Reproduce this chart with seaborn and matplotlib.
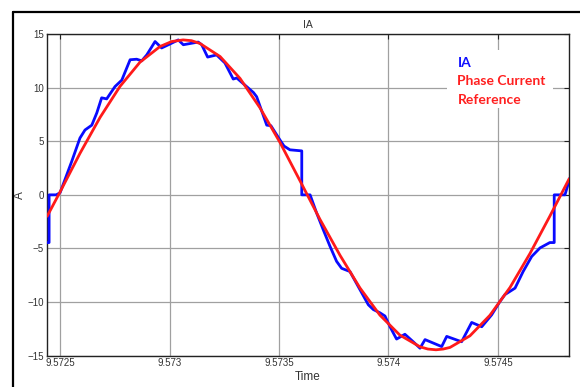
import matplotlib
matplotlib.use("Agg")
import matplotlib.pyplot as plt
from matplotlib.lines import Line2D
from matplotlib.patches import Rectangle
import seaborn as sns
import pandas as pd

# ---- data ----
ia_time = [9.572439, 9.572450, 9.572450, 9.572482, 9.572500, 9.572553, 9.572591,
           9.572614, 9.572645, 9.572668, 9.572690, 9.572713, 9.572751, 9.572782,
           9.572820, 9.572850, 9.572873, 9.572896, 9.572934, 9.572964, 9.572995,
           9.573040, 9.573063, 9.573131, 9.573147, 9.573174, 9.573215, 9.573253,
           9.573291, 9.573307, 9.573383, 9.573398, 9.573444, 9.573463, 9.573505,
           9.573523, 9.573550, 9.573604, 9.573604, 9.573642, 9.573672, 9.573702,
           9.573733, 9.573763, 9.573786, 9.573824, 9.573870, 9.573908, 9.573931,
           9.573961, 9.573984, 9.574007, 9.574037, 9.574075, 9.574113, 9.574144,
           9.574167, 9.574243, 9.574266, 9.574334, 9.574380, 9.574426, 9.574471,
           9.574509, 9.574532, 9.574578, 9.574615, 9.574654, 9.574692, 9.574737,
           9.574757, 9.574757, 9.574806, 9.574829]
ia_value = [-4.45, -4.45, 0.0, 0.0, 0.19, 3.1, 5.3,
            6.05, 6.5, 7.65, 9.05, 8.95, 10.1, 10.7,
            12.6, 12.65, 12.5, 13.05, 14.3, 13.7, 14.0,
            14.45, 14.0, 14.25, 14.0, 12.85, 13.05, 12.3,
            10.8, 10.9, 9.55, 9.15, 6.5, 6.45, 5.1,
            4.55, 4.2, 4.1, 0.0, 0.0, -1.7, -3.25,
            -4.8, -6.2, -6.85, -7.15, -8.85, -10.25, -10.7,
            -11.0, -11.3, -12.3, -13.45, -13.0, -13.7, -14.3,
            -13.5, -14.15, -13.2, -13.7, -11.9, -12.3, -11.2,
            -9.95, -9.3, -8.7, -7.15, -5.75, -4.95, -4.45,
            -4.45, 0.0, 0.0, 1.6]

ref_time = [9.572441, 9.572500, 9.572591, 9.572683, 9.572774, 9.572865, 9.572957,
            9.573010, 9.573062, 9.573100, 9.573139, 9.573231, 9.573322, 9.573413,
            9.573505, 9.573596, 9.573687, 9.573779, 9.573870, 9.573961, 9.574052,
            9.574144, 9.574180, 9.574217, 9.574250, 9.574281, 9.574372, 9.574463,
            9.574555, 9.574646, 9.574737, 9.574825]
ref_value = [-2.0, 0.27, 3.87, 7.23, 10.12, 12.37, 13.84,
             14.3, 14.45, 14.38, 14.12, 12.90, 10.86, 8.12,
             4.87, 1.31, -2.28, -5.65, -8.69, -11.22, -13.08,
             -14.17, -14.38, -14.45, -14.38, -14.23, -13.15, -11.24,
             -8.64, -5.48, -1.99, 1.49]

x_ticks = [9.5725, 9.573, 9.5735, 9.574, 9.5745]
x_tick_labels = ["9.5725", "9.573", "9.5735", "9.574", "9.5745"]
y_ticks = [-15, -10, -5, 0, 5, 10, 15]

title_text = "IA"
legend_lines = ["IA", "Phase Current", "Reference"]

# ---- plot ----
sns.set_style("white")
plt.rcParams["font.family"] = ["Liberation Sans", "DejaVu Sans"]

fig = plt.figure(figsize=(5.8, 3.87), dpi=100)
ax = fig.add_axes([0.0805, 0.0809, 0.9011, 0.8312])

df_ia = pd.DataFrame({"Time": ia_time, "A": ia_value})
df_ref = pd.DataFrame({"Time": ref_time, "A": ref_value})

sns.lineplot(data=df_ia, x="Time", y="A", sort=False, estimator=None,
             color="#0a0aff", linewidth=2.0, ax=ax, zorder=3)
sns.lineplot(data=df_ref, x="Time", y="A", sort=False, estimator=None,
             color="#ff1a1a", linewidth=2.0, ax=ax, zorder=4)

ax.set_xlim(9.572439, 9.574826)
ax.set_ylim(-15, 15)
ax.set_xticks(x_ticks)
ax.set_xticklabels(x_tick_labels)
ax.set_yticks(y_ticks)
ax.grid(True, color="#a0a0a0", linewidth=0.9)
ax.set_axisbelow(True)
ax.tick_params(direction="in", length=3.5, width=0.8, top=True, right=True,
               labelsize=7, colors="#222222", pad=2, labelcolor="#333333")
for s in ax.spines.values():
    s.set_color("#222222")
    s.set_linewidth(1.0)

ax.set_xlabel("Time", fontsize=8.5, color="#333333", labelpad=2)
ax.set_ylabel("A", fontsize=8.5, color="#333333")
ax.yaxis.set_label_coords(-0.039, 0.5)
ax.set_title(title_text, fontsize=7.5, color="#333333", pad=4)

# white legend box
ax.add_patch(Rectangle((0.766, 0.770), 0.203, 0.180, transform=ax.transAxes,
                       facecolor="white", edgecolor="none", zorder=2.5))
leg_colors = ["#1010ff", "#ff2020", "#ff2020"]
leg_y = [0.910, 0.853, 0.796]
for txt, c, yy in zip(legend_lines, leg_colors, leg_y):
    ax.text(0.786, yy, txt, transform=ax.transAxes, color=c, fontsize=10,
            fontweight="bold", family=["Lato", "DejaVu Sans"], va="center",
            ha="left", zorder=5)

# outer frame
fig.add_artist(Line2D([13.3 / 580, 13.3 / 580], [0, 1 - 11.7 / 387],
                      transform=fig.transFigure, color="black", linewidth=1.6))
fig.add_artist(Line2D([13.3 / 580, 1], [1 - 11.7 / 387, 1 - 11.7 / 387],
                      transform=fig.transFigure, color="black", linewidth=1.6))

fig.savefig("out.png", dpi=100)
